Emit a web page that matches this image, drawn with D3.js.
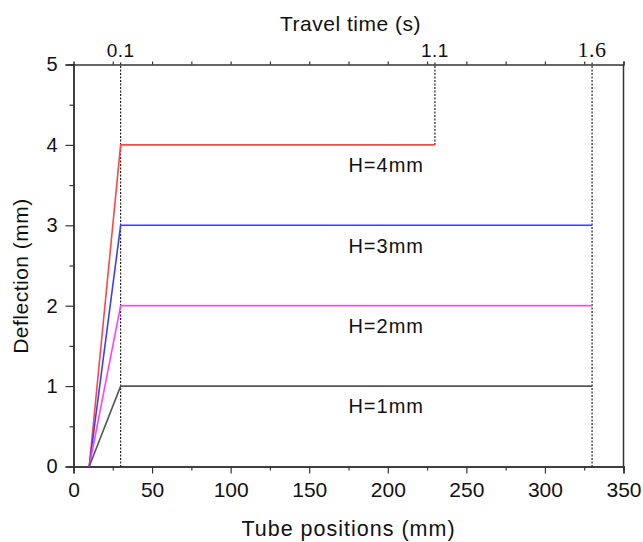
<!DOCTYPE html>
<html>
<head>
<meta charset="utf-8">
<script src="https://cdn.jsdelivr.net/npm/d3@7"></script>
<style>
  body { margin: 0; background: #fff; }
  svg { display: block; }
  svg text { font-family: 'Liberation Sans', Arial, sans-serif; }
  svg text.serif { font-family: 'Liberation Serif', 'DejaVu Serif', serif; }
</style>
</head>
<body>
<div id="chart"></div>
<script>
// deflection profiles: x = tube position (mm), y = deflection (mm)
const heights = [4, 3, 2, 1]
const seriesLabels = ['H=4mm', 'H=3mm', 'H=2mm', 'H=1mm']
const seriesX = [[10, 30, 230], [10, 30, 330], [10, 30, 330], [10, 30, 330]]
const seriesY = [[0, 4, 4], [0, 3, 3], [0, 2, 2], [0, 1, 1]]
const seriesColors = ['#ff4545', '#3d3dff', '#ff40ff', '#555555']

// travel-time markers (s) and the tube positions they sit at
const timeTicks = [0.1, 1.1, 1.6]
const timeTickX = [30, 230, 330]
const timeLineTop = [5, 5, 5]
const timeLineBottom = [0, 4, 0]

const xTicks = [0, 50, 100, 150, 200, 250, 300, 350]
const yTicks = [0, 1, 2, 3, 4, 5]

const width = 643, height = 542
const margin = { top: 64.5, right: 19.5, bottom: 75.5, left: 73.5 }
const innerW = width - margin.left - margin.right
const innerH = height - margin.top - margin.bottom

const svg = d3.select('#chart').append('svg')
  .attr('width', width).attr('height', height)

const g = svg.append('g').attr('transform', `translate(${margin.left},${margin.top})`)

const x = d3.scaleLinear().domain([0, 350]).range([0, innerW])
const y = d3.scaleLinear().domain([0, 5]).range([innerH, 0])
// travel time: t = (x - 10) / 200
const t = d3.scaleLinear().domain([-0.05, 1.7]).range([0, innerW])

const axisColor = '#333'

// minor ticks
g.append('g').attr('transform', `translate(0,${innerH})`)
  .call(d3.axisBottom(x).tickValues(d3.range(25, 350, 50)).tickSize(4).tickFormat(''))
g.append('g')
  .call(d3.axisLeft(y).tickValues(d3.range(0.5, 5, 1)).tickSize(4).tickFormat(''))
g.append('g')
  .call(d3.axisTop(x).tickValues(d3.range(25, 351, 25)).tickSize(3).tickFormat(''))

// major axes
const xAxis = g.append('g').attr('transform', `translate(0,${innerH})`)
  .call(d3.axisBottom(x).tickValues(xTicks).tickSize(7).tickPadding(9))
xAxis.selectAll('text').style('font-size', '21px')
const yAxis = g.append('g')
  .call(d3.axisLeft(y).tickValues(yTicks).tickSize(8).tickPadding(8).tickFormat(d3.format('d')))
yAxis.selectAll('text').style('font-size', '20px')

// top travel-time labels
g.selectAll('.tlabel').data(timeTicks).join('text')
  .attr('class', (d) => (d === 1.6 ? 'tlabel serif' : 'tlabel'))
  .attr('x', (d) => t(d)).attr('y', -8)
  .attr('text-anchor', 'middle').attr('fill', '#111')
  .style('font-size', (d) => (d === 1.6 ? '22px' : '19px'))
  .style('letter-spacing', '0.5px')
  .text(d3.format('.1f'))

// right frame
g.append('line').attr('x1', innerW).attr('x2', innerW).attr('y1', 0).attr('y2', innerH)
  .attr('stroke', axisColor).attr('stroke-width', 1.5)

g.selectAll('.domain').attr('stroke', axisColor).attr('stroke-width', 1.5)
g.selectAll('.tick line').attr('stroke', axisColor).attr('stroke-width', 1.2)
g.selectAll('.tick text').attr('fill', '#111')

// dashed time markers
g.selectAll('.marker').data(timeTickX).join('line').attr('class', 'marker')
  .attr('x1', (d) => x(d)).attr('x2', (d) => x(d))
  .attr('y1', (_, i) => y(timeLineTop[i]) - 2).attr('y2', (_, i) => y(timeLineBottom[i]))
  .attr('stroke', '#111').attr('stroke-width', 1.1).attr('stroke-dasharray', '2,1.5')

// deflection lines
const line = d3.line().x((d) => x(d[0])).y((d) => y(d[1]))
heights.forEach((h, i) => {
  const pts = seriesX[i].map((v, j) => [v, seriesY[i][j]])
  g.append('path').datum(pts).attr('fill', 'none')
    .attr('stroke', seriesColors[i]).attr('stroke-width', 1.6).attr('d', line)
  g.append('text').attr('x', x(199)).attr('y', y(h - 0.34))
    .attr('text-anchor', 'middle').attr('fill', '#111')
    .style('font-size', '20px').style('letter-spacing', '1px')
    .text(seriesLabels[i])
})

// axis titles
svg.append('text').attr('x', margin.left + innerW / 2).attr('y', 536)
  .attr('text-anchor', 'middle').style('font-size', '21.5px').style('letter-spacing', '1px')
  .attr('fill', '#111').text('Tube positions (mm)')
svg.append('text').attr('x', margin.left + innerW / 2 + 2).attr('y', 31)
  .attr('text-anchor', 'middle').style('font-size', '21px').style('letter-spacing', '0.5px')
  .attr('fill', '#111').text('Travel time (s)')
svg.append('text').attr('transform', `translate(28,276) rotate(-90)`)
  .attr('text-anchor', 'middle').style('font-size', '21px').style('letter-spacing', '0.5px')
  .attr('fill', '#111').text('Deflection (mm)')
</script>
</body>
</html>
